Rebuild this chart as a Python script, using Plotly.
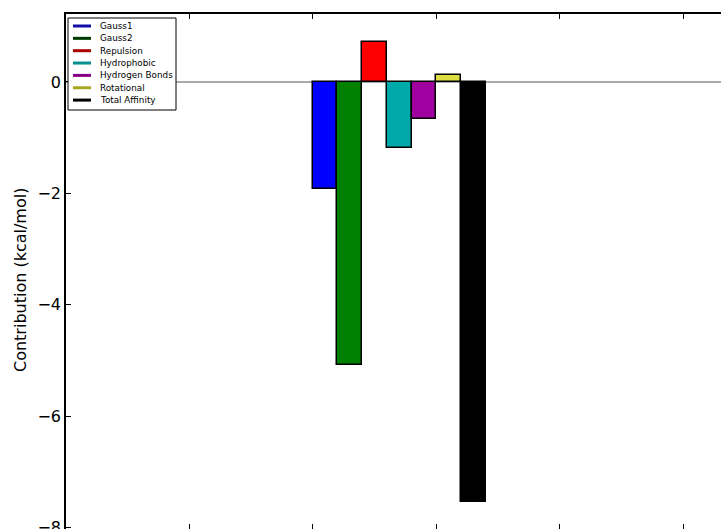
import plotly.graph_objects as go

terms = ["Gauss1", "Gauss2", "Repulsion", "Hydrophobic", "Hydrogen Bonds", "Rotational", "Total Affinity"]
values = [-1.93, -5.08, 0.71, -1.18, -0.67, 0.12, -7.55]
bar_colors = ["#0000ff", "#008000", "#ff0000", "#00aaaa", "#a000a0", "#dede40", "#000000"]
legend_colors = ["#1010a8", "#003a00", "#aa0000", "#009090", "#880088", "#a8a820", "#000000"]
bar_positions = [2.1, 2.3, 2.5, 2.7, 2.9, 3.1, 3.3]
y_ticks = [0, -2, -4, -6, -8]
x_ticks = [1, 2, 3, 4, 5]

W, H = 721, 529
ML, MT, MR, MB = 66, 14, 0, 0
PW, PH = W - ML - MR, H - MT - MB

fig = go.Figure()
fig.add_trace(go.Bar(
    x=bar_positions, y=values, width=0.2,
    marker=dict(color=bar_colors, line=dict(color="black", width=1.5)),
    showlegend=False,
))

fig.add_shape(type="line", xref="paper", yref="y", x0=0, x1=1, y0=0, y1=0,
              line=dict(color="#aaaaaa", width=2), layer="below")

def px_x(p):
    return (p - ML) / PW

def px_y(p):
    return 1 - (p - MT) / PH

# manual legend (matplotlib-style)
fig.add_shape(type="rect", xref="paper", yref="paper",
              x0=px_x(68), x1=px_x(176), y0=px_y(110), y1=px_y(18),
              line=dict(color="black", width=1), fillcolor="white", layer="above")
for i, (name, col) in enumerate(zip(terms, legend_colors)):
    yy = 26 + i * 12.35
    fig.add_shape(type="line", xref="paper", yref="paper",
                  x0=px_x(73), x1=px_x(91), y0=px_y(yy), y1=px_y(yy),
                  line=dict(color=col, width=3), layer="above")
    fig.add_annotation(x=px_x(98), y=px_y(yy), xref="paper", yref="paper",
                       text=name, showarrow=False, xanchor="left", yanchor="middle",
                       font=dict(family="DejaVu Sans", size=8.8, color="black"))

fig.add_annotation(x=px_x(20), y=px_y(280), xref="paper", yref="paper",
                   text="Contribution (kcal/mol)", textangle=-90, showarrow=False,
                   xanchor="center", yanchor="middle",
                   font=dict(family="DejaVu Sans", size=16, color="black"))

fig.update_layout(
    width=W, height=H,
    margin=dict(l=ML, r=MR, t=MT, b=MB, pad=0, autoexpand=False),
    paper_bgcolor="white", plot_bgcolor="white",
    font=dict(family="DejaVu Sans", size=16, color="black"),
    bargap=0,
)
fig.update_xaxes(range=[0, PW / 123.4], tickvals=x_ticks, showticklabels=False,
                 ticks="inside", ticklen=5, tickwidth=1, tickcolor="black",
                 showline=True, linecolor="black", linewidth=1.5, mirror="ticks",
                 showgrid=False, zeroline=False, automargin=False)
fig.update_yaxes(range=[1.22 - PH / 55.7, 1.22], tickvals=y_ticks,
                 ticktext=["0", "\u22122", "\u22124", "\u22126", "\u22128"],
                 ticks="inside", ticklen=5, tickwidth=1, tickcolor="black",
                 showline=True, linecolor="black", linewidth=1.5, mirror=False,
                 showgrid=False, zeroline=False, ticklabeloverflow="allow",
                 automargin=False)

fig.write_html("out.html", config={"displayModeBar": False},
               post_script="document.body.style.margin='0';document.body.style.overflow='hidden';")
